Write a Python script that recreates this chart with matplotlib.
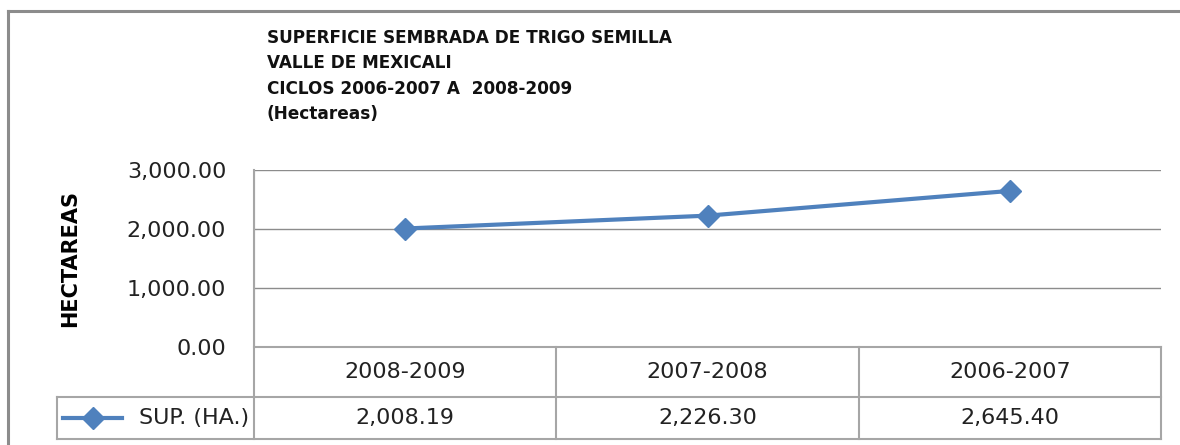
import matplotlib
matplotlib.use("Agg")
import matplotlib.pyplot as plt
import matplotlib.transforms as mtransforms
from matplotlib.lines import Line2D

# datos del ciclo
ciclos = ["2008-2009", "2007-2008", "2006-2007"]
superficie = [2008.19, 2226.30, 2645.40]
etiquetas_tabla = ["2,008.19", "2,226.30", "2,645.40"]
ticks_y = [0, 1000, 2000, 3000]
titulo = ["SUPERFICIE SEMBRADA DE TRIGO SEMILLA",
          "VALLE DE MEXICALI",
          "CICLOS 2006-2007 A  2008-2009",
          "(Hectareas)"]
serie = "SUP. (HA.)"

W, H = 1180, 445
color_linea = "#4F81BD"
gris = "#A6A6A6"

fig = plt.figure(figsize=(W / 100, H / 100), dpi=100)

# marco exterior
fig.add_artist(Line2D([8 / W, 8 / W], [0, 1 - 11 / H], color="#8C8C8C", lw=2.2))
fig.add_artist(Line2D([8 / W, 1], [1 - 11 / H, 1 - 11 / H], color="#8C8C8C", lw=2.2))

# area de grafico en pixeles
x0, x1, ytop, ybot = 254, 1161, 170, 347
ax = fig.add_axes([x0 / W, 1 - ybot / H, (x1 - x0) / W, (ybot - ytop) / H])

x = list(range(len(ciclos)))
ax.plot(x, superficie, color=color_linea, lw=3, marker="D", markersize=11,
        clip_on=False, zorder=5)
ax.set_xlim(-0.5, len(ciclos) - 0.5)
ax.set_ylim(0, 3000)
ax.set_yticks(ticks_y)
ax.set_yticklabels([f"{v:,.2f}" for v in ticks_y], fontsize=16, color="#222222")
ax.tick_params(axis="y", length=0, pad=20)
ax.set_xticks([])
for s in ["top", "right", "bottom"]:
    ax.spines[s].set_visible(False)
ax.spines["left"].set_color(gris)
ax.grid(axis="y", color="#8C8C8C", lw=1)
ax.set_axisbelow(True)

ax.set_ylabel("HECTAREAS", fontsize=15, fontweight="bold", labelpad=34)

# tabla de datos bajo el eje
ph = ybot - ytop
r1 = -(397 - ybot) / ph
r2 = -(439 - ybot) / ph
xl = (57 - x0) / (x1 - x0)
kw = dict(color=gris, lw=1.5, clip_on=False, transform=ax.transAxes)
ax.plot([0, 0], [r2, 1], **kw)
ax.plot([1, 1], [r2, 0], **kw)
ax.plot([xl, 1], [r1, r1], **kw)
ax.plot([xl, 1], [r2, r2], **kw)
ax.plot([xl, xl], [r1, r2], **kw)
ax.plot([0, 1], [0, 0], **kw)
blend = mtransforms.blended_transform_factory(ax.transData, ax.transAxes)
for i in range(1, len(ciclos)):
    ax.plot([i - 0.5, i - 0.5], [r2, 0], color=gris, lw=1.5, clip_on=False,
            transform=blend)
for i, (c, v) in enumerate(zip(ciclos, etiquetas_tabla)):
    ax.text(i, r1 / 2, c, ha="center", va="center", fontsize=16,
            color="#222222", transform=blend)
    ax.text(i, (r1 + r2) / 2, v, ha="center", va="center", fontsize=16,
            color="#222222", transform=blend)

# leyenda en la tabla
ym = (r1 + r2) / 2
lx0 = (63 - x0) / (x1 - x0)
lx1 = (122 - x0) / (x1 - x0)
ax.plot([lx0, lx1], [ym, ym], color=color_linea, lw=3, clip_on=False,
        transform=ax.transAxes)
ax.plot([(lx0 + lx1) / 2], [ym], color=color_linea, marker="D", markersize=11,
        clip_on=False, transform=ax.transAxes)
ax.text((249 - x0) / (x1 - x0), ym, serie, ha="right", va="center",
        fontsize=16, color="#222222", transform=ax.transAxes)

# titulo
for k, linea in enumerate(titulo):
    fig.text(267 / W, 1 - (38 + 25.3 * k) / H, linea, fontsize=12.2,
             fontweight="bold", ha="left", va="center", color="#111111")

fig.savefig("out.png", dpi=100)
